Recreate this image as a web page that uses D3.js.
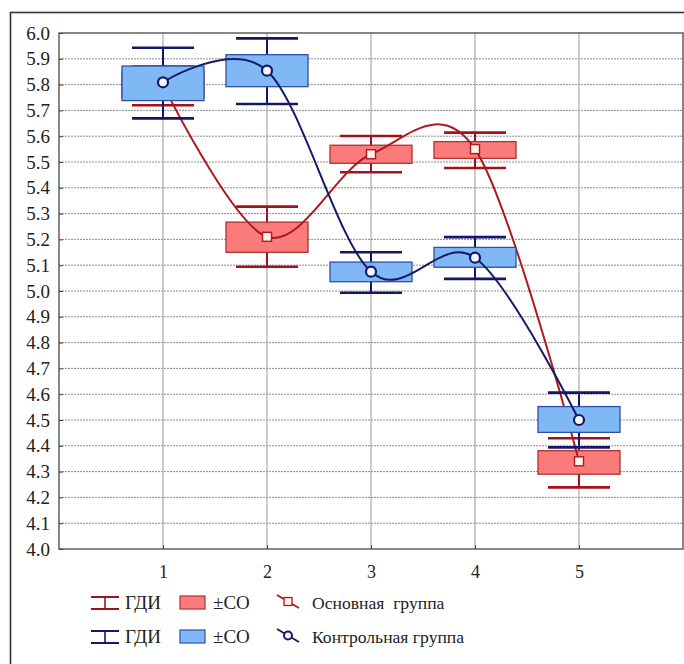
<!DOCTYPE html>
<html lang="ru">
<head>
    <meta charset="UTF-8">
    <title>ГДИ</title>
    <script src="https://d3js.org/d3.v7.min.js"></script>
    <style>
        body { margin: 0; background: #fff; }
        svg { display: block; }
        svg text { font-family: "Liberation Serif", "Times New Roman", serif; fill: #222; }
    </style>
</head>
<body>
    <div id="plot"></div>

    <script>
        function translate(x, y){
            return 'translate(' + x + ', ' + y + ')';
        }

        // data
        let categories = [1, 2, 3, 4, 5];

        // основная группа (red)
        let mainMean   = [5.80, 5.21, 5.53, 5.55, 4.34];
        let mainSdLow  = [5.75, 5.15, 5.495, 5.514, 4.29];
        let mainSdHigh = [5.85, 5.267, 5.565, 5.579, 4.381];
        let mainCiLow  = [5.72, 5.094, 5.46, 5.477, 4.239];
        let mainCiHigh = [5.87, 5.327, 5.601, 5.614, 4.429];

        // контрольная группа (blue)
        let ctrlMean   = [5.809, 5.854, 5.075, 5.129, 4.50];
        let ctrlSdLow  = [5.738, 5.792, 5.036, 5.092, 4.452];
        let ctrlSdHigh = [5.872, 5.916, 5.112, 5.169, 4.552];
        let ctrlCiLow  = [5.669, 5.725, 4.993, 5.047, 4.394];
        let ctrlCiHigh = [5.943, 5.979, 5.150, 5.209, 4.606];

        let yTickValues = [4.0, 4.1, 4.2, 4.3, 4.4, 4.5, 4.6, 4.7, 4.8, 4.9,
                           5.0, 5.1, 5.2, 5.3, 5.4, 5.5, 5.6, 5.7, 5.8, 5.9, 6.0];
        let xTickValues = [1, 2, 3, 4, 5];

        let legendRows = [
            {ci: 'ГДИ', sd: '±СО', name: 'Основная  группа'},
            {ci: 'ГДИ', sd: '±СО', name: 'Контрольная группа'}
        ];

        let svgWidth = 684;
        let svgHeight = 664;
        let plot = {left: 59, top: 33, right: 683, bottom: 549};

        let red = {fill: '#fb7b7b', stroke: '#b13030', whisker: '#a3121a', line: '#b01820', marker: '#fff1e4'};
        let blue = {fill: '#7fb8f4', stroke: '#2f4fa8', whisker: '#14186a', line: '#161a66', marker: '#f2f6ff'};

        let svg = d3.select('#plot')
                    .append('svg')
                        .attr('width', svgWidth)
                        .attr('height', svgHeight);

        // outer frame
        svg.append('rect')
            .attr('x', 10.5).attr('y', 12.5)
            .attr('width', 700).attr('height', 700)
            .attr('fill', 'none')
            .attr('stroke', '#333')
            .attr('stroke-width', 1.6);

        let x = d3.scaleLinear()
                    .domain([0, 6])
                    .range([plot.left, plot.right]);
        let y = d3.scaleLinear()
                    .domain([4.0, 6.0])
                    .range([plot.bottom, plot.top]);

        // grid
        svg.append('g')
            .selectAll('line')
            .data(yTickValues.slice(1, -1))
            .join('line')
                .attr('x1', plot.left).attr('x2', plot.right)
                .attr('y1', d => y(d)).attr('y2', d => y(d))
                .attr('stroke', '#8c8c8c')
                .attr('stroke-width', 1)
                .attr('stroke-dasharray', '2,1');

        svg.append('g')
            .selectAll('line')
            .data(xTickValues)
            .join('line')
                .attr('x1', d => x(d)).attr('x2', d => x(d))
                .attr('y1', plot.top).attr('y2', plot.bottom)
                .attr('stroke', '#9a9a9a')
                .attr('stroke-width', 1);

        // plot border
        svg.append('rect')
            .attr('x', plot.left).attr('y', plot.top)
            .attr('width', plot.right - plot.left)
            .attr('height', plot.bottom - plot.top)
            .attr('fill', 'none')
            .attr('stroke', '#555')
            .attr('stroke-width', 1.4);

        // axes
        let yAxis = d3.axisLeft(y)
                        .tickValues(yTickValues)
                        .tickFormat(d3.format('.1f'))
                        .tickSize(-4)
                        .tickPadding(9);
        let gy = svg.append('g')
            .attr('transform', translate(plot.left, 0))
            .call(yAxis);
        gy.attr('font-family', null);
        gy.select('.domain').remove();
        gy.selectAll('line').attr('stroke', '#444');
        gy.selectAll('text').attr('font-size', 19).attr('fill', '#222');

        let xAxis = d3.axisBottom(x)
                        .tickValues(xTickValues)
                        .tickFormat(d3.format('d'))
                        .tickSize(-4)
                        .tickPadding(16);
        let gx = svg.append('g')
            .attr('transform', translate(0, plot.bottom))
            .call(xAxis);
        gx.attr('font-family', null);
        gx.select('.domain').remove();
        gx.selectAll('line').attr('stroke', '#444');
        gx.selectAll('text').attr('font-size', 18).attr('fill', '#222');

        let boxHalf = 41;
        let capHalf = 31;
        let line = d3.line()
                        .x(d => x(d.cat))
                        .y(d => y(d.mean))
                        .curve(d3.curveCardinal.tension(0));

        function drawGroup(mean, sdLow, sdHigh, ciLow, ciHigh, col, markerType){
            let rows = categories.map((c, i) => ({
                cat: c, mean: mean[i], sdLow: sdLow[i], sdHigh: sdHigh[i],
                ciLow: ciLow[i], ciHigh: ciHigh[i]
            }));
            let g = svg.append('g');

            // whisker stems
            g.selectAll('.stem')
                .data(rows)
                .join('line')
                    .attr('x1', d => x(d.cat)).attr('x2', d => x(d.cat))
                    .attr('y1', d => y(d.ciLow)).attr('y2', d => y(d.ciHigh))
                    .attr('stroke', col.whisker)
                    .attr('stroke-width', 2);

            // caps
            rows.forEach(function(d){
                [d.ciLow, d.ciHigh].forEach(function(v){
                    g.append('line')
                        .attr('x1', x(d.cat) - capHalf).attr('x2', x(d.cat) + capHalf)
                        .attr('y1', y(v)).attr('y2', y(v))
                        .attr('stroke', col.whisker)
                        .attr('stroke-width', 2.6);
                });
            });

            // sd boxes
            g.selectAll('rect')
                .data(rows)
                .join('rect')
                    .attr('x', d => x(d.cat) - boxHalf)
                    .attr('y', d => y(d.sdHigh))
                    .attr('width', boxHalf * 2)
                    .attr('height', d => y(d.sdLow) - y(d.sdHigh))
                    .attr('fill', col.fill)
                    .attr('stroke', col.stroke)
                    .attr('stroke-width', 1.3);

            g.append('path')
                .datum(rows)
                .attr('d', line)
                .attr('fill', 'none')
                .attr('stroke', col.line)
                .attr('stroke-width', 2);

            if (markerType === 'square') {
                g.selectAll('.mk')
                    .data(rows)
                    .join('rect')
                        .attr('x', d => x(d.cat) - 4.5)
                        .attr('y', d => y(d.mean) - 4.5)
                        .attr('width', 9).attr('height', 9)
                        .attr('fill', col.marker)
                        .attr('stroke', col.line)
                        .attr('stroke-width', 1.4);
            } else {
                g.selectAll('.mk')
                    .data(rows)
                    .join('circle')
                        .attr('cx', d => x(d.cat))
                        .attr('cy', d => y(d.mean))
                        .attr('r', 5)
                        .attr('fill', col.marker)
                        .attr('stroke', col.line)
                        .attr('stroke-width', 2.2);
            }
        }

        drawGroup(mainMean, mainSdLow, mainSdHigh, mainCiLow, mainCiHigh, red, 'square');
        drawGroup(ctrlMean, ctrlSdLow, ctrlSdHigh, ctrlCiLow, ctrlCiHigh, blue, 'circle');

        // legend
        let legend = svg.append('g');
        let rowY = [603, 637];
        let cols = [red, blue];

        legendRows.forEach(function(r, i){
            let cy = rowY[i];
            let c = cols[i];
            let lg = legend.append('g').attr('transform', translate(0, cy));

            // whisker icon
            lg.append('line').attr('x1', 91).attr('x2', 119).attr('y1', -6).attr('y2', -6)
                .attr('stroke', c.whisker).attr('stroke-width', 2);
            lg.append('line').attr('x1', 91).attr('x2', 119).attr('y1', 6).attr('y2', 6)
                .attr('stroke', c.whisker).attr('stroke-width', 2);
            lg.append('line').attr('x1', 105).attr('x2', 105).attr('y1', -6).attr('y2', 6)
                .attr('stroke', c.whisker).attr('stroke-width', 1.6);
            lg.append('text').attr('x', 125).attr('y', 6)
                .attr('font-size', 19).text(r.ci);

            // box icon
            lg.append('rect').attr('x', 180).attr('y', -7).attr('width', 25).attr('height', 13)
                .attr('fill', c.fill).attr('stroke', c.stroke).attr('stroke-width', 1.2);
            lg.append('text').attr('x', 213).attr('y', 6)
                .attr('font-size', 19).text(r.sd);

            // line + marker icon
            lg.append('line').attr('x1', 277).attr('x2', 299).attr('y1', -8).attr('y2', 5)
                .attr('stroke', c.line).attr('stroke-width', 1.8);
            if (i === 0) {
                lg.append('rect').attr('x', 284).attr('y', -5.5).attr('width', 8).attr('height', 8)
                    .attr('fill', c.marker).attr('stroke', c.line).attr('stroke-width', 1.3);
            } else {
                lg.append('circle').attr('cx', 288).attr('cy', -1.5).attr('r', 4)
                    .attr('fill', c.marker).attr('stroke', c.line).attr('stroke-width', 2);
            }
            lg.append('text').attr('x', 312).attr('y', 6)
                .attr('font-size', 17.6)
                .style('white-space', 'pre')
                .text(r.name);
        });
    </script>
</body>
</html>
